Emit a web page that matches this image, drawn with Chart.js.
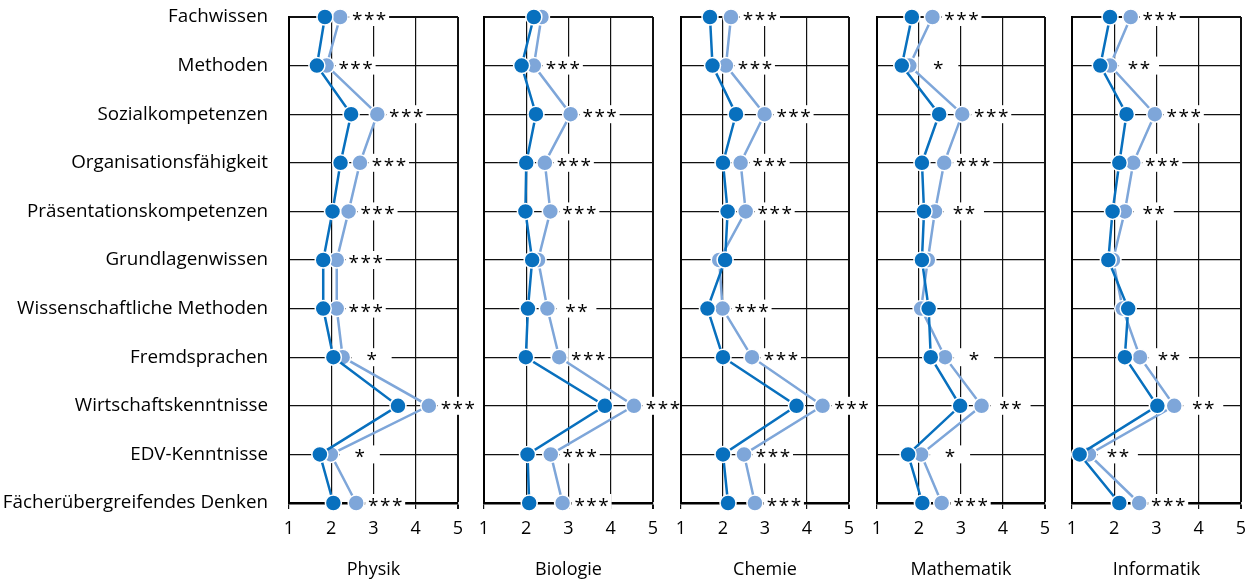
<!DOCTYPE html>
<html><head><meta charset="utf-8">
<script src="https://cdn.jsdelivr.net/npm/chart.js@4.4.1/dist/chart.umd.min.js"></script>
<style>
html,body{margin:0;padding:0;background:#fff;width:1252px;height:586px;overflow:hidden;position:relative}
canvas{position:absolute;top:0}
</style></head><body>
<canvas id="k0"></canvas><canvas id="k1"></canvas><canvas id="k2"></canvas><canvas id="k3"></canvas><canvas id="k4"></canvas>
<script>
const categories = ['Fachwissen','Methoden','Sozialkompetenzen','Organisationsfähigkeit','Präsentationskompetenzen','Grundlagenwissen','Wissenschaftliche Methoden','Fremdsprachen','Wirtschaftskenntnisse','EDV-Kenntnisse','Fächerübergreifendes Denken'];
const subjects = ['Physik','Biologie','Chemie','Mathematik','Informatik'];
const xTicks = [1,2,3,4,5];

const physikDark  = [1.85,1.66,2.47,2.22,2.03,1.81,1.81,2.05,3.58,1.73,2.05];
const physikLight = [2.21,1.89,3.09,2.68,2.41,2.13,2.13,2.27,4.31,1.99,2.59];
const physikSig   = ['***','***','***','***','***','***','***','*','***','*','***'];

const biologieDark  = [2.18,1.89,2.23,2.00,1.98,2.14,2.04,1.99,3.86,2.03,2.07];
const biologieLight = [2.36,2.18,3.05,2.44,2.57,2.28,2.50,2.78,4.55,2.58,2.86];
const biologieSig   = ['','***','***','***','***','','**','***','***','***','***'];

const chemieDark  = [1.69,1.75,2.31,2.00,2.11,2.05,1.63,2.00,3.75,2.00,2.12];
const chemieLight = [2.19,2.07,2.99,2.42,2.54,1.91,1.99,2.69,4.37,2.50,2.76];
const chemieSig   = ['***','***','***','***','***','','***','***','***','***','***'];

const mathematikDark  = [1.83,1.59,2.48,2.07,2.12,2.07,2.23,2.28,2.98,1.74,2.08];
const mathematikLight = [2.32,1.77,3.03,2.60,2.38,2.21,2.05,2.62,3.49,2.05,2.54];
const mathematikSig   = ['***','*','***','***','**','','','*','**','*','***'];

const informatikDark  = [1.90,1.67,2.29,2.12,1.96,1.86,2.33,2.25,3.02,1.18,2.12];
const informatikLight = [2.39,1.90,2.96,2.45,2.25,1.97,2.20,2.61,3.42,1.40,2.59];
const informatikSig   = ['***','**','***','***','**','','','**','**','**','***'];

const darkSeries  = [physikDark, biologieDark, chemieDark, mathematikDark, informatikDark];
const lightSeries = [physikLight, biologieLight, chemieLight, mathematikLight, informatikLight];
const sigSeries   = [physikSig, biologieSig, chemieSig, mathematikSig, informatikSig];

const DARK = '#0870BE', LIGHT = '#7EA6D9';
const FONT = '"Open Sans", sans-serif';
const H = 586;
const plotL = [289, 484, 681, 877, 1072];
const plotR = [458, 653, 849, 1045, 1241];
const plotTop = 17, plotBottom = 503;

const sigPlugin = {
  id: 'sig',
  beforeDatasetsDraw(chart, args, opts) {
    const ctx = chart.ctx, xs = chart.scales.x, ys = chart.scales.y;
    const a = chart.data.datasets[0].data, b = chart.data.datasets[1].data;
    ctx.save();
    ctx.font = '19px ' + FONT;
    ctx.letterSpacing = '1.5px';
    opts.sig.forEach((s, i) => {
      if (!s) return;
      const px = xs.getPixelForValue(Math.max(a[i], b[i]));
      const py = ys.getPixelForValue(i);
      const cx = px + 29;
      ctx.fillStyle = '#fff';
      ctx.fillRect(cx - 20, py - 9, 40, 18);
      ctx.fillStyle = '#000';
      ctx.textAlign = 'left';
      ctx.textBaseline = 'alphabetic';
      const w = ctx.measureText(s).width - 1.5;
      ctx.fillText(s, cx - w / 2, py + 9);
    });
    ctx.restore();
  }
};

subjects.forEach((subj, p) => {
  const cv = document.getElementById('k' + p);
  const padL = p === 0 ? 0 : 24, padR = 32;
  const left = p === 0 ? 0 : plotL[p] - padL;
  const width = plotR[p] - left + padR;
  cv.width = width; cv.height = H;
  cv.style.left = left + 'px';
  cv.style.width = width + 'px'; cv.style.height = H + 'px';
  new Chart(cv, {
    type: 'line',
    data: {
      labels: categories,
      datasets: [
        { label: subj + ' A', data: darkSeries[p], borderColor: DARK, backgroundColor: DARK,
          pointBackgroundColor: DARK, pointBorderColor: '#fff', pointBorderWidth: 1.5,
          pointRadius: 8, pointHoverRadius: 8, borderWidth: 2.5, tension: 0, clip: false },
        { label: subj + ' B', data: lightSeries[p], borderColor: LIGHT, backgroundColor: LIGHT,
          pointBackgroundColor: LIGHT, pointBorderColor: '#fff', pointBorderWidth: 1.5,
          pointRadius: 8, pointHoverRadius: 8, borderWidth: 2.5, tension: 0, clip: false }
      ]
    },
    options: {
      responsive: false, animation: false, indexAxis: 'y',
      layout: { padding: { left: padL, right: padR, top: plotTop, bottom: 0 } },
      plugins: { legend: { display: false }, tooltip: { enabled: false }, sig: { sig: sigSeries[p] } },
      scales: {
        y: {
          type: 'category', offset: false,
          afterFit: s => { s.width = p === 0 ? plotL[0] : 0; s.paddingTop = 0; s.paddingBottom = 0; },
          grid: { color: '#111', lineWidth: c => c.index === 0 ? 2 : 1.2, drawTicks: false },
          border: { display: true, color: '#000', width: 2 },
          ticks: { display: p === 0, autoSkip: false, padding: 21, color: '#000', font: { family: FONT, size: 18.8 } }
        },
        x: {
          type: 'linear', min: 1, max: 5,
          afterBuildTicks: s => { s.ticks = xTicks.map(v => ({ value: v })); },
          afterFit: s => { s.height = H - plotBottom; s.paddingLeft = 0; s.paddingRight = 0; },
          grid: { color: '#111', lineWidth: c => (c.tick && c.tick.value === 5) ? 2 : 1.2, drawTicks: true, tickLength: 6, tickColor: '#111' },
          border: { display: true, color: '#000', width: 2.5 },
          ticks: { padding: 9, color: '#000', font: { family: FONT, size: 18 } },
          title: { display: true, text: subj, color: '#000', font: { family: FONT, size: 18 }, padding: { top: 4, bottom: 5 } }
        }
      }
    },
    plugins: [sigPlugin]
  });
});
</script>
</body></html>
